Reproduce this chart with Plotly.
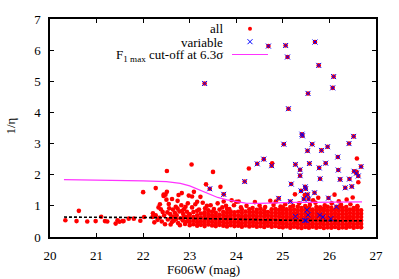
import plotly.graph_objects as go

# ---------------- data ----------------
# variable sources (F606W mag, 1/eta)
var_mag = [23.32, 24.69, 25.06, 25.69, 25.10, 25.77, 26.09, 26.07, 25.54, 25.12,
           25.41, 25.42, 25.02, 25.63, 25.53, 25.83, 25.96, 26.52, 26.42, 26.18,
           24.59, 25.27, 25.57, 25.92, 25.78, 26.68, 25.37, 26.19, 26.53, 26.58,
           26.62, 25.37, 25.80, 26.23, 26.43, 25.18, 25.48, 25.49, 26.48, 26.34,
           25.39, 25.53, 25.68, 25.98, 25.45, 25.55, 25.16, 24.91, 24.76, 24.45,
           24.18, 23.43, 23.73, 26.15, 25.52, 25.54, 25.27, 25.79, 25.86, 26.03,
           25.47, 25.50]
var_eta = [4.93, 6.13, 6.15, 6.26, 5.78, 5.51, 5.15, 4.79, 4.61, 4.12,
           3.30, 3.25, 2.98, 2.98, 2.77, 2.78, 2.90, 3.23, 3.00, 2.57,
           2.50, 2.33, 2.36, 2.37, 2.22, 2.26, 2.16, 2.15, 2.11, 2.05,
           1.96, 1.97, 1.87, 1.85, 1.86, 1.70, 1.61, 1.55, 1.62, 1.58,
           1.48, 1.36, 1.42, 1.25, 1.22, 1.22, 1.14, 1.24, 2.29, 2.35,
           1.78, 1.55, 1.37, 0.97, 0.87, 0.71, 0.66, 0.70, 0.64, 0.59,
           0.53, 0.53]

# scattered (non-variable) sources
sparse_mag = [20.33, 20.62, 20.57, 20.80, 20.98, 21.10, 21.18, 21.23, 21.41, 21.45,
              21.49, 21.56, 21.58, 21.69, 21.80, 21.94, 22.00, 22.02, 22.21, 22.20,
              22.27, 22.31, 22.33, 22.38, 22.44, 22.48, 22.50, 22.51, 22.52, 22.55,
              22.45, 22.47, 22.58, 23.04, 23.50, 23.35, 23.66, 24.27, 24.77, 22.83,
              22.98, 23.05, 23.23, 22.74, 24.05, 23.73, 24.73, 26.59, 26.62, 26.58,
              26.11, 26.50, 26.37, 25.76, 25.26, 25.47, 24.00, 22.51, 22.44, 22.62,
              22.76, 23.09, 23.16, 23.37,
              22.60, 22.64, 22.66, 22.70, 22.72, 22.75, 22.78, 22.80, 22.82, 22.85,
              22.86, 22.88, 22.90, 22.92, 22.94, 22.96, 22.97, 22.99, 22.62, 22.68,
              22.35, 22.40, 22.42, 22.56, 22.59, 22.27, 22.24, 22.36, 22.87, 22.93,
              22.79, 22.71, 22.53, 22.64, 22.74, 22.84, 22.91,
              23.05, 23.12, 23.20, 23.28, 23.33, 23.45, 23.52, 23.60, 23.70, 23.78,
              23.85, 23.95, 24.10, 24.22, 24.35, 24.50, 24.62, 24.80, 24.95, 25.05,
              25.22, 25.35, 25.58, 25.70, 25.90, 26.05, 26.25, 26.45, 26.60, 23.90,
              24.40, 25.65, 26.20, 24.85]
sparse_eta = [0.54, 0.84, 0.51, 0.50, 0.51, 0.65, 0.51, 0.50, 0.43, 0.54,
              0.49, 0.51, 0.51, 0.59, 0.59, 0.52, 1.44, 0.64, 0.76, 0.64,
              1.57, 0.55, 0.95, 0.89, 1.36, 1.36, 1.20, 2.12, 0.79, 1.06,
              0.69, 0.41, 0.74, 2.33, 2.09, 1.69, 1.61, 2.20, 2.37, 1.41,
              1.33, 1.30, 1.29, 1.16, 1.14, 1.14, 1.16, 2.52, 1.76, 2.09,
              1.36, 1.27, 1.20, 1.26, 1.37, 1.35, 1.13, 1.45, 1.32, 1.22,
              1.35, 1.45, 1.13, 1.00,
              0.62, 0.88, 0.52, 0.97, 0.70, 0.45, 0.82, 0.60, 1.02, 0.53,
              0.74, 0.90, 0.42, 0.65, 0.81, 1.08, 0.55, 0.72, 0.48, 0.78,
              0.62, 0.50, 0.80, 0.92, 0.40, 0.70, 0.47, 1.05, 0.62, 0.50,
              0.38, 0.58, 0.56, 0.66, 0.91, 0.84, 0.97,
              0.95, 1.05, 0.88, 1.10, 0.92, 1.02, 0.90, 1.08, 0.95, 1.00,
              0.90, 1.02, 0.95, 1.00, 0.93, 1.01, 0.96, 1.03, 0.98, 1.05,
              1.00, 1.08, 1.03, 1.10, 1.02, 1.08, 1.03, 1.05, 0.99, 1.18,
              1.12, 1.18, 1.15, 1.14]

# dense band of faint sources, read column by column
band1_mag = [23.00, 23.08, 23.16, 23.24, 23.32, 23.40, 23.48, 23.56, 23.64, 23.72,
             23.80, 23.88, 23.96]
band1_eta = [[0.38, 0.49, 0.61, 0.73], [0.41, 0.52, 0.64, 0.80],
             [0.36, 0.47, 0.58, 0.70, 0.84], [0.39, 0.50, 0.62, 0.75],
             [0.35, 0.46, 0.57, 0.68, 0.79], [0.40, 0.51, 0.63, 0.74, 0.86],
             [0.37, 0.48, 0.59, 0.70, 0.81], [0.35, 0.45, 0.56, 0.67, 0.78],
             [0.39, 0.50, 0.61, 0.72, 0.88], [0.36, 0.47, 0.58, 0.69, 0.80],
             [0.34, 0.45, 0.56, 0.67, 0.78, 0.90], [0.38, 0.49, 0.60, 0.71, 0.82],
             [0.35, 0.46, 0.57, 0.68, 0.79]]
band2_mag = [24.04, 24.12, 24.20, 24.28, 24.36, 24.44, 24.52, 24.60, 24.68, 24.76,
             24.84, 24.92]
band2_eta = [[0.36, 0.47, 0.58, 0.69, 0.81], [0.33, 0.44, 0.55, 0.66, 0.77, 0.88],
             [0.37, 0.48, 0.59, 0.70, 0.82], [0.34, 0.45, 0.56, 0.67, 0.78, 0.89],
             [0.36, 0.47, 0.58, 0.69, 0.80], [0.33, 0.44, 0.55, 0.66, 0.77, 0.87],
             [0.35, 0.46, 0.57, 0.68, 0.79, 0.91], [0.32, 0.43, 0.54, 0.65, 0.76, 0.86],
             [0.36, 0.47, 0.58, 0.69, 0.80], [0.33, 0.44, 0.55, 0.66, 0.77, 0.89],
             [0.35, 0.46, 0.57, 0.68, 0.79, 0.90], [0.32, 0.43, 0.54, 0.65, 0.76, 0.87]]
band3_mag = [25.00, 25.08, 25.16, 25.24, 25.32, 25.40, 25.48, 25.56, 25.64, 25.72,
             25.80, 25.88, 25.96]
band3_eta = [[0.31, 0.42, 0.53, 0.64, 0.75, 0.86, 0.95], [0.34, 0.45, 0.56, 0.67, 0.78, 0.89],
             [0.30, 0.41, 0.52, 0.63, 0.74, 0.85, 0.96], [0.33, 0.44, 0.55, 0.66, 0.77, 0.88],
             [0.31, 0.42, 0.53, 0.64, 0.75, 0.86, 0.97], [0.29, 0.40, 0.51, 0.62, 0.73, 0.84, 0.93],
             [0.32, 0.43, 0.54, 0.65, 0.76, 0.87, 0.99], [0.30, 0.41, 0.52, 0.63, 0.74, 0.85, 0.94],
             [0.33, 0.44, 0.55, 0.66, 0.77, 0.88], [0.30, 0.41, 0.52, 0.63, 0.74, 0.85, 0.96],
             [0.32, 0.43, 0.54, 0.65, 0.76, 0.87, 0.95], [0.29, 0.40, 0.51, 0.62, 0.73, 0.84, 0.92],
             [0.31, 0.42, 0.53, 0.64, 0.75, 0.86, 0.97]]
band4_mag = [26.04, 26.12, 26.20, 26.28, 26.36, 26.44, 26.52, 26.60, 26.68]
band4_eta = [[0.30, 0.41, 0.52, 0.63, 0.74, 0.85, 0.94], [0.32, 0.43, 0.54, 0.65, 0.76, 0.87],
             [0.29, 0.40, 0.51, 0.62, 0.73, 0.84, 0.95], [0.31, 0.42, 0.53, 0.64, 0.75, 0.86, 0.93],
             [0.30, 0.41, 0.52, 0.63, 0.74, 0.85, 0.96], [0.33, 0.44, 0.55, 0.66, 0.77, 0.88],
             [0.30, 0.41, 0.52, 0.63, 0.74, 0.85, 0.93], [0.32, 0.43, 0.54, 0.65, 0.76, 0.87, 0.97],
             [0.31, 0.42, 0.53, 0.64, 0.75, 0.86]]

# F1 max cut-off curve at 6.3 sigma
cut_mag = [20.3, 21.0, 21.5, 22.0, 22.5, 22.8, 23.0, 23.2, 23.4, 23.6,
           23.8, 24.0, 24.2, 24.5, 24.8, 25.2, 25.6, 26.0, 26.4, 26.7]
cut_eta = [1.84, 1.83, 1.81, 1.80, 1.78, 1.72, 1.64, 1.51, 1.39, 1.27,
           1.19, 1.13, 1.09, 1.08, 1.10, 1.11, 1.11, 1.12, 1.12, 1.13]

# running median line
med_mag = [20.3, 21.0, 22.0, 22.5, 23.0, 23.5, 24.0, 24.5, 25.0, 25.5, 26.0, 26.7]
med_eta = [0.64, 0.64, 0.63, 0.62, 0.60, 0.58, 0.56, 0.55, 0.54, 0.53, 0.53, 0.52]

x_ticks = [20, 21, 22, 23, 24, 25, 26, 27]
y_ticks = [0, 1, 2, 3, 4, 5, 6, 7]

# ---------------- assemble "all" ----------------
all_mag, all_eta = [], []
for mags, etas in [(band1_mag, band1_eta), (band2_mag, band2_eta),
                   (band3_mag, band3_eta), (band4_mag, band4_eta)]:
    for m, col in zip(mags, etas):
        for e in col:
            all_mag.append(m)
            all_eta.append(e)
all_mag += sparse_mag + var_mag
all_eta += sparse_eta + var_eta

FONT = "Liberation Serif"
RED = "#ff0000"
BLUE = "#0000ff"
MAG = "#ff33ff"

fig = go.Figure()
fig.add_trace(go.Scatter(x=all_mag, y=all_eta, mode="markers",
                         marker=dict(color=RED, size=4.6, line=dict(width=0)),
                         showlegend=False, hoverinfo="skip"))
fig.add_trace(go.Scatter(x=cut_mag, y=cut_eta, mode="lines",
                         line=dict(color=MAG, width=1.2), showlegend=False))
fig.add_trace(go.Scatter(x=med_mag, y=med_eta, mode="lines",
                         line=dict(color="black", width=1.6, dash="3px,2px"),
                         showlegend=False))
fig.add_trace(go.Scatter(x=var_mag, y=var_eta, mode="markers",
                         marker=dict(symbol="x-thin", size=5, color=BLUE,
                                     line=dict(width=1, color=BLUE)),
                         showlegend=False))

L, R, T, B = 50, 23, 16, 42
W, H = 399, 279
pw, ph = W - L - R, H - T - B


def px(xp):
    return (xp - L) / pw


def py(yp):
    return 1 - (yp - T) / ph


ann = []
legend_items = [("all", 26), ("variable", 39.5),
                ("F<sub>1 max</sub> cut-off at 6.3σ", 53)]
for text, yy in legend_items:
    ann.append(dict(text=text, xref="paper", yref="paper", x=px(225), y=py(yy),
                    xanchor="right", yanchor="middle", showarrow=False,
                    font=dict(family=FONT, size=13, color="black")))
ann.append(dict(text="1/η", xref="paper", yref="paper", x=px(11), y=py(125),
                xanchor="center", yanchor="middle", textangle=-90, showarrow=False,
                font=dict(family=FONT, size=13, color="black")))
ann.append(dict(text="F606W (mag)", xref="paper", yref="paper", x=px(203), y=py(270),
                xanchor="center", yanchor="middle", showarrow=False,
                font=dict(family=FONT, size=13, color="black")))

shapes = [
    dict(type="circle", xref="paper", yref="paper", xsizemode="pixel", ysizemode="pixel",
         xanchor=px(250), yanchor=py(26), x0=-2, x1=2, y0=-2, y1=2,
         fillcolor=RED, line=dict(width=0)),
    dict(type="line", xref="paper", yref="paper", xsizemode="pixel", ysizemode="pixel",
         xanchor=px(250), yanchor=py(39), x0=-2.5, x1=2.5, y0=-2.5, y1=2.5,
         line=dict(color=BLUE, width=1)),
    dict(type="line", xref="paper", yref="paper", xsizemode="pixel", ysizemode="pixel",
         xanchor=px(250), yanchor=py(39), x0=-2.5, x1=2.5, y0=2.5, y1=-2.5,
         line=dict(color=BLUE, width=1)),
    dict(type="line", xref="paper", yref="paper", x0=px(232), x1=px(268),
         y0=py(52), y1=py(52), line=dict(color=MAG, width=1.2)),
]

axis_common = dict(showgrid=False, zeroline=False, showline=True, linecolor="black",
                   linewidth=1.5, mirror="ticks", ticks="inside", ticklen=4,
                   tickwidth=1, tickcolor="black",
                   tickfont=dict(family=FONT, size=13, color="black"))
fig.update_layout(
    width=W, height=H, margin=dict(l=L, r=R, t=T, b=B, pad=0),
    plot_bgcolor="white", paper_bgcolor="white",
    xaxis=dict(range=[20, 27], tickvals=x_ticks, ticklabelstandoff=6, **axis_common),
    yaxis=dict(range=[0, 7], tickvals=y_ticks, ticklabelstandoff=5, **axis_common),
    annotations=ann, shapes=shapes, showlegend=False,
)
fig.write_html("out.html", config={"displayModeBar": False},
               post_script="document.body.style.margin='0';document.body.style.overflow='hidden';")
